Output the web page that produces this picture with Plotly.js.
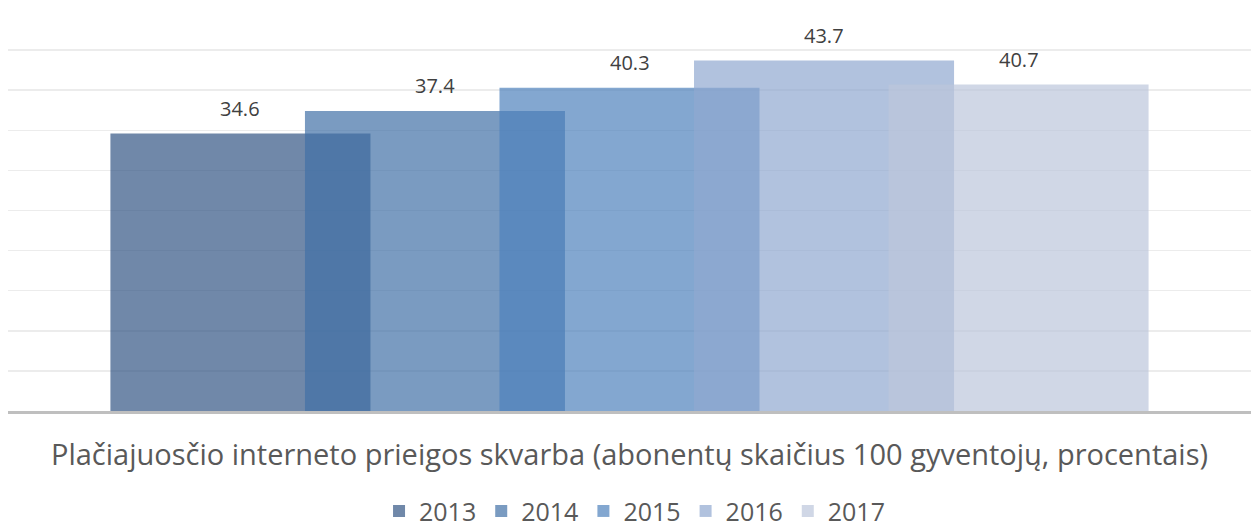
<!DOCTYPE html>
<html>
<head>
<meta charset="utf-8">
<script src="https://cdn.plot.ly/plotly-3.0.1.min.js"></script>
<style>
html,body{margin:0;padding:0;background:#fff;}
#chart{width:1259px;height:527px;}
</style>
</head>
<body>
<div id="chart"></div>
<script>
const category = ['Plačiajuosčio'];
const years = ['2013', '2014', '2015', '2016', '2017'];
const values = [34.6, 37.4, 40.3, 43.7, 40.7];
const colors = ['rgba(51,86,132,0.7)', 'rgba(66,112,166,0.7)', 'rgba(79,129,188,0.7)', 'rgba(144,168,208,0.7)', 'rgba(188,198,219,0.7)'];
const axisTitle = 'Plačiajuosčio interneto prieigos skvarba (abonentų skaičius 100 gyventojų, procentais)';

const barWidth = 0.2092;
const step = 0.1565;
const start = -(step * (years.length - 1) + barWidth) / 2;

const traces = years.map((y, i) => ({
  type: 'bar',
  name: y,
  x: category,
  y: [values[i]],
  width: [barWidth],
  offset: [start + i * step],
  marker: {color: colors[i], line: {width: 0}},
  hoverinfo: 'name+y'
}));

const annotations = years.map((y, i) => ({
  x: start + i * step + barWidth / 2,
  y: values[i],
  xref: 'x', yref: 'y',
  text: values[i].toFixed(1),
  showarrow: false,
  yanchor: 'bottom',
  yshift: 10,
  font: {family: 'Open Sans', size: 20, color: '#404040'}
}));

const layout = {
  width: 1259, height: 527,
  margin: {l: 8, r: 8, t: 10, b: 116},
  paper_bgcolor: '#ffffff',
  plot_bgcolor: '#ffffff',
  barmode: 'overlay',
  showlegend: true,
  font: {family: 'Open Sans', color: '#595959'},
  xaxis: {
    type: 'category',
    range: [-0.5, 0.5],
    showticklabels: false,
    ticks: '',
    showgrid: false,
    showline: true,
    linecolor: '#bfbfbf',
    linewidth: 2.5,
    fixedrange: true,
    title: {text: axisTitle, font: {family: 'Open Sans', size: 29, color: '#595959'}, standoff: 32},
    automargin: false
  },
  yaxis: {
    range: [0, 50],
    dtick: 5,
    showticklabels: false,
    ticks: '',
    showgrid: true,
    gridcolor: '#ececec',
    gridwidth: 1.5,
    zeroline: false,
    showline: false,
    fixedrange: true
  },
  legend: {
    orientation: 'h',
    xref: 'container', yref: 'container',
    x: 0.504, xanchor: 'center',
    y: 0.03, yanchor: 'middle',
    font: {family: 'Open Sans', size: 25, color: '#595959'},
    traceorder: 'normal'
  },
  annotations: annotations
};

Plotly.newPlot('chart', traces, layout, {displayModeBar: false, staticPlot: true});
</script>
</body>
</html>
